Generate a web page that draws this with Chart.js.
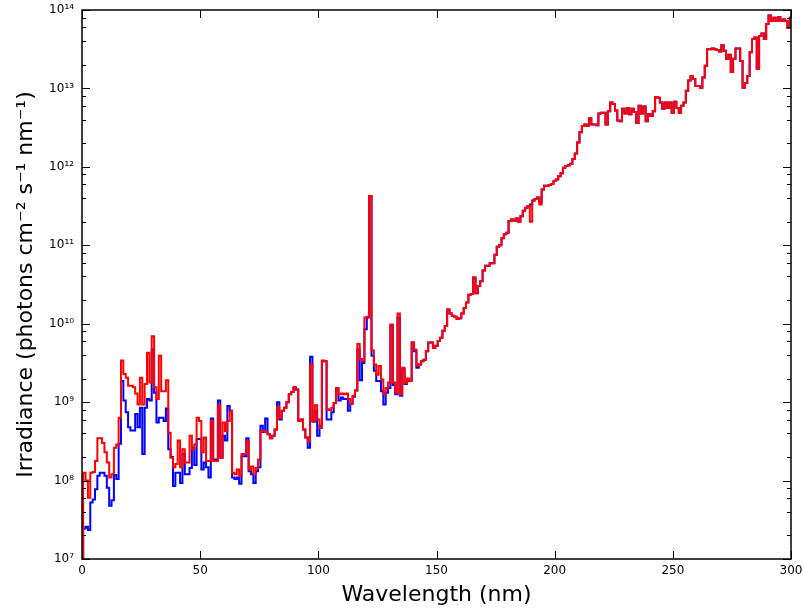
<!DOCTYPE html>
<html><head><meta charset="utf-8">
<script src="https://cdn.jsdelivr.net/npm/chart.js@4.4.1/dist/chart.umd.min.js"></script>
<style>html,body{margin:0;padding:0;background:#fff;}#wrap{width:804px;height:611px;}</style>
</head><body><div id="wrap"><canvas id="c" width="804" height="611" style="width:804px;height:611px"></canvas></div>
<script>
// bin centres (nm), 1 nm bins
const wavelengths = Array.from({length: 301}, (_, i) => i);
// log10 of irradiance (photons cm^-2 s^-1 nm^-1)
const redLog = [
6.00,8.10,8.00,7.78,8.10,8.11,8.25,8.54,8.54,8.48,8.36,
8.23,8.04,8.08,8.42,8.46,8.80,9.53,9.36,9.31,9.21,
9.21,9.19,9.11,8.97,9.31,8.97,9.23,9.63,9.25,9.84,
9.19,9.04,9.59,9.14,9.14,9.28,8.61,8.29,8.17,8.21,
8.51,8.17,8.40,8.23,8.23,8.57,8.40,8.46,8.80,8.76,
8.36,8.55,8.25,8.25,8.76,8.25,8.25,8.96,8.29,8.74,
8.63,8.76,8.89,8.10,8.08,8.14,8.06,8.34,8.34,8.50,
8.14,8.18,8.08,8.16,8.27,8.63,8.63,8.62,8.59,8.54,
8.57,8.65,8.94,8.80,8.89,8.93,9.00,9.10,9.13,9.19,
9.16,8.76,8.78,8.65,8.55,8.50,9.48,8.76,8.96,8.78,
8.67,9.53,9.52,8.91,8.90,8.93,8.99,9.18,9.10,9.11,
9.10,9.11,9.04,8.98,9.08,9.15,9.74,9.55,9.52,10.08,
10.09,11.63,9.66,9.48,9.35,9.46,9.29,9.10,9.18,9.25,
9.99,9.25,9.12,10.13,9.10,9.44,9.24,9.30,9.27,9.76,
9.67,9.46,9.48,9.52,9.54,9.65,9.76,9.76,9.69,9.72,
9.78,9.82,9.91,9.97,10.18,10.13,10.10,10.09,10.06,10.07,
10.13,10.20,10.27,10.37,10.38,10.59,10.39,10.48,10.54,10.68,
10.74,10.74,10.77,10.77,10.88,10.98,11.00,11.09,11.14,11.16,
11.31,11.33,11.31,11.34,11.30,11.37,11.44,11.48,11.50,11.30,
11.57,11.59,11.61,11.52,11.71,11.76,11.76,11.77,11.78,11.82,
11.84,11.88,11.92,11.99,12.01,12.02,12.04,12.10,12.17,12.31,
12.44,12.52,12.54,12.52,12.62,12.54,12.54,12.53,12.68,12.69,
12.69,12.54,12.71,12.82,12.80,12.72,12.59,12.58,12.74,12.68,
12.75,12.67,12.74,12.70,12.56,12.78,12.68,12.77,12.58,12.67,
12.65,12.71,12.89,12.88,12.82,12.74,12.82,12.75,12.82,12.69,
12.83,12.75,12.69,12.78,12.82,12.97,13.10,13.16,13.12,13.03,
13.03,13.01,13.14,13.29,13.50,13.50,13.51,13.50,13.49,13.47,
13.55,13.48,13.38,13.43,13.21,13.38,13.51,13.51,13.35,13.01,
13.07,13.16,13.46,13.63,13.65,13.25,13.67,13.70,13.63,13.82,
13.93,13.86,13.90,13.86,13.91,13.86,13.88,13.86,13.77,13.90
];
const blueLog = [
6.00,7.39,7.41,7.37,7.72,7.76,7.89,8.06,8.10,8.10,8.06,
7.91,7.68,7.75,8.07,8.02,8.47,9.27,9.02,8.87,8.68,
8.64,8.64,8.85,8.68,8.93,8.34,8.93,9.04,9.02,9.67,
9.12,8.74,8.80,8.80,8.76,8.92,8.40,8.30,7.93,8.10,
8.10,7.97,8.34,8.08,8.08,8.16,8.42,8.20,8.53,8.53,
8.14,8.23,8.17,8.04,8.79,8.27,8.27,9.02,8.29,8.57,
8.51,8.95,8.89,8.04,8.02,8.04,7.96,8.31,8.31,8.54,
8.12,8.08,7.97,8.12,8.17,8.70,8.62,8.79,8.59,8.54,
8.57,8.65,9.00,8.78,8.89,8.93,9.00,9.10,9.13,9.19,
9.16,8.76,8.78,8.65,8.55,8.42,9.58,8.75,8.89,8.57,
8.70,9.52,9.52,8.78,8.78,8.87,8.99,9.18,9.02,9.06,
9.04,9.04,8.89,8.98,9.07,9.15,9.67,9.28,9.50,9.93,
10.08,11.63,9.59,9.40,9.27,9.27,9.14,8.97,9.12,9.18,
9.98,9.22,9.10,10.08,9.08,9.42,9.23,9.27,9.27,9.76,
9.65,9.44,9.48,9.52,9.54,9.65,9.76,9.76,9.69,9.72,
9.78,9.82,9.91,9.97,10.18,10.13,10.10,10.09,10.06,10.07,
10.13,10.20,10.27,10.37,10.38,10.59,10.39,10.48,10.54,10.68,
10.74,10.74,10.77,10.77,10.88,10.98,11.00,11.09,11.14,11.16,
11.31,11.33,11.31,11.34,11.30,11.37,11.44,11.48,11.50,11.52,
11.57,11.59,11.61,11.55,11.71,11.76,11.76,11.77,11.78,11.82,
11.84,11.88,11.92,11.99,12.01,12.02,12.04,12.10,12.17,12.31,
12.44,12.52,12.54,12.52,12.62,12.54,12.54,12.53,12.68,12.69,
12.69,12.54,12.71,12.82,12.80,12.72,12.59,12.58,12.74,12.68,
12.75,12.67,12.74,12.70,12.56,12.78,12.68,12.77,12.58,12.67,
12.65,12.71,12.89,12.88,12.82,12.74,12.82,12.75,12.82,12.69,
12.83,12.75,12.69,12.78,12.82,12.97,13.10,13.16,13.12,13.03,
13.03,13.01,13.14,13.29,13.50,13.50,13.51,13.50,13.49,13.47,
13.55,13.48,13.38,13.43,13.21,13.38,13.51,13.51,13.35,13.01,
13.07,13.16,13.46,13.63,13.65,13.25,13.67,13.70,13.63,13.82,
13.93,13.86,13.90,13.86,13.91,13.86,13.88,13.86,13.77,13.90
];
const xTicks = [0, 50, 100, 150, 200, 250, 300];
const yTickExponents = [7, 8, 9, 10, 11, 12, 13, 14];
const minorSubs = [2, 4, 6, 8];

const SUP = {'0':'⁰','1':'¹','2':'²','3':'³','4':'⁴','5':'⁵','6':'⁶','7':'⁷','8':'⁸','9':'⁹','-':'⁻'};
const sup = n => String(n).split('').map(c => SUP[c]).join('');

const frameTicks = {
  id: 'frameTicks',
  afterDatasetsDraw(chart) {
    const {ctx, chartArea: a} = chart;
    const x = chart.scales.x, y = chart.scales.y;
    ctx.save();
    ctx.strokeStyle = '#000';
    ctx.lineWidth = 1;
    ctx.beginPath();
    xTicks.forEach(v => {
      const px = Math.round(x.getPixelForValue(v)) + 0.5;
      ctx.moveTo(px, a.bottom); ctx.lineTo(px, a.bottom - 8);
      ctx.moveTo(px, a.top); ctx.lineTo(px, a.top + 8);
    });
    yTickExponents.forEach(e => {
      const py = Math.round(y.getPixelForValue(Math.pow(10, e))) + 0.5;
      ctx.moveTo(a.left, py); ctx.lineTo(a.left + 8, py);
      ctx.moveTo(a.right, py); ctx.lineTo(a.right - 8, py);
      if (e < 14) minorSubs.forEach(m => {
        const pm = Math.round(y.getPixelForValue(m * Math.pow(10, e))) + 0.5;
        ctx.moveTo(a.left, pm); ctx.lineTo(a.left + 4, pm);
        ctx.moveTo(a.right, pm); ctx.lineTo(a.right - 4, pm);
      });
    });
    ctx.stroke();
    ctx.lineWidth = 1.5;
    ctx.strokeRect(a.left, a.top, a.right - a.left, a.bottom - a.top);
    ctx.restore();
  }
};

const FONT = 'DejaVu Sans';
new Chart(document.getElementById('c'), {
  type: 'line',
  data: {
    datasets: [
      { label: 'Red', data: wavelengths.map((w, i) => ({x: w, y: Math.pow(10, redLog[i])})),
        borderColor: '#ff0000', borderWidth: 2, stepped: 'middle', pointRadius: 0, fill: false, order: 0 },
      { label: 'Blue', data: wavelengths.map((w, i) => ({x: w, y: Math.pow(10, blueLog[i])})),
        borderColor: '#0000ff', borderWidth: 2, stepped: 'middle', pointRadius: 0, fill: false, order: 1 }
    ]
  },
  options: {
    responsive: false, animation: false, devicePixelRatio: 1,
    layout: { padding: { top: 10, right: 13, left: 0, bottom: 0 } },
    plugins: { legend: { display: false }, tooltip: { enabled: false } },
    scales: {
      x: {
        type: 'linear', min: 0, max: 300,
        afterBuildTicks: s => { s.ticks = xTicks.map(v => ({value: v})); },
        afterFit: s => { s.height = 52; s.paddingLeft = 0; s.paddingRight = 0; },
        grid: { display: false, drawTicks: false }, border: { display: false },
        ticks: { color: '#000', font: { family: FONT, size: 12 }, padding: 5, maxRotation: 0, autoSkip: false },
        title: { display: true, text: 'Wavelength (nm)', color: '#000', font: { family: FONT, size: 22 }, padding: { top: 0, bottom: 3 } }
      },
      y: {
        type: 'logarithmic', min: 1e7, max: 1e14,
        afterBuildTicks: s => { s.ticks = yTickExponents.map(e => ({value: Math.pow(10, e)})); },
        afterFit: s => { s.width = 82; s.paddingTop = 0; s.paddingBottom = 0; },
        grid: { display: false, drawTicks: false }, border: { display: false },
        ticks: { color: '#000', font: { family: FONT, size: 12 }, padding: 8, autoSkip: false,
          callback: v => '10' + sup(Math.round(Math.log10(v))) },
        title: { display: true, text: 'Irradiance (photons cm⁻² s⁻¹ nm⁻¹)', color: '#000', font: { family: FONT, size: 22 }, padding: { top: 13, bottom: 0 } }
      }
    }
  },
  plugins: [frameTicks]
});
</script>
</body></html>
